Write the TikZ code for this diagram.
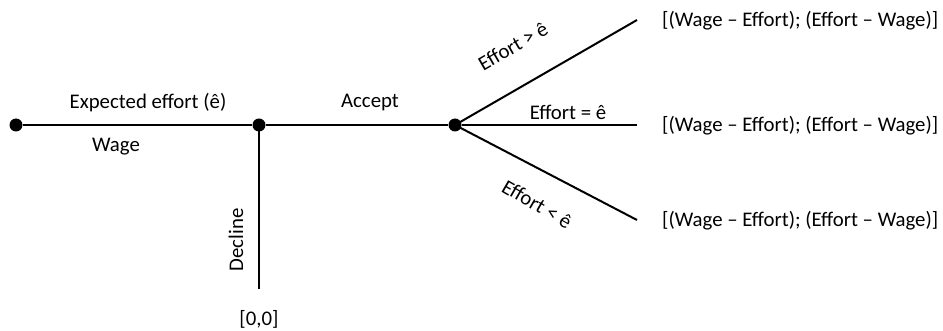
\documentclass[tikz,border=0pt]{standalone}
\usepackage{fontspec}
\setmainfont{Carlito}
\begin{document}
\begin{tikzpicture}[x=1pt,y=-1pt,
  branch/.style={line width=2pt,black},
  dot/.style={circle,fill=black,inner sep=0pt,minimum size=13pt},
  lbl/.style={font=\fontsize{20.8}{25}\selectfont,inner sep=0pt},
  payoff/.style={lbl,anchor=west}]
\useasboundingbox (0,0) rectangle (943,331);
% decision nodes
\node[dot] (n0) at (16,125) {};
\node[dot] (n1) at (259,125) {};
\node[dot] (n2) at (455,125) {};
% terminal points
\coordinate (d) at (259,289);
\coordinate (hi) at (637,20);
\coordinate (mid) at (637,125);
\coordinate (lo) at (637,220);
% branches
\draw[branch] (n0) -- (n1);
\draw[branch] (n1) -- (n2);
\draw[branch] (n1.center) -- (d);
\draw[branch] (n2.center) -- (hi);
\draw[branch] (n2) -- (mid);
\draw[branch] (n2.center) -- (lo);
% branch labels
\node[lbl] (ee) at (148,103) {Expected effort (ê)};
\node[lbl] (wg) at (116,147) {Wage};
\node[lbl] (ac) at (370,103) {Accept};
\node[lbl,rotate=90] (dc) at (236,240) {Decline};
\node[lbl] (z) at (259,319) {[0,0]};
\node[lbl,rotate=30] (eg) at (513,46) {Effort > ê};
\node[lbl] (eq) at (568,112) {Effort = ê};
\node[lbl,rotate=-30] (el) at (537,204) {Effort < ê};
% payoffs
\node[payoff] (p1) at (662,21) {[(Wage – Effort); (Effort – Wage)]};
\node[payoff] (p2) at (662,126) {[(Wage – Effort); (Effort – Wage)]};
\node[payoff] (p3) at (662,221) {[(Wage – Effort); (Effort – Wage)]};
\end{tikzpicture}
\end{document}
